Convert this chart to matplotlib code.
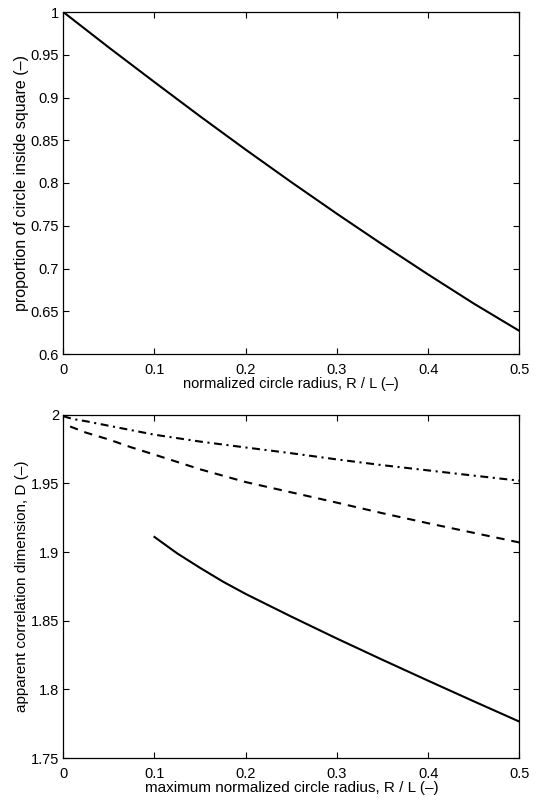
import matplotlib
matplotlib.use('Agg')
import matplotlib.pyplot as plt

plt.rcParams['font.family'] = ['Liberation Sans', 'DejaVu Sans']
plt.rcParams['font.size'] = 10.5

# top panel: proportion of circle inside square
radius_top = [0.0, 0.05, 0.1, 0.15, 0.2, 0.25, 0.3, 0.35, 0.4, 0.45, 0.5]
proportion = [1.0, 0.9585, 0.918, 0.878, 0.839, 0.801, 0.764, 0.728, 0.693, 0.659, 0.627]

# bottom panel: apparent correlation dimension
radius_dashdot = [0.0, 0.01, 0.025, 0.05, 0.1, 0.15, 0.2, 0.25, 0.3, 0.35, 0.4, 0.45, 0.5]
dim_dashdot = [1.999, 1.997, 1.9953, 1.992, 1.9855, 1.9805, 1.9762, 1.972, 1.9675, 1.9633,
               1.9595, 1.9557, 1.952]

radius_dashed = [0.0075, 0.025, 0.05, 0.075, 0.1, 0.15, 0.2, 0.25, 0.3, 0.35, 0.4, 0.45, 0.5]
dim_dashed = [1.9915, 1.987, 1.982, 1.9762, 1.971, 1.9603, 1.951, 1.9435, 1.936, 1.9283,
              1.921, 1.914, 1.907]

radius_solid = [0.1, 0.125, 0.15, 0.175, 0.2, 0.25, 0.3, 0.35, 0.4, 0.45, 0.5]
dim_solid = [1.911, 1.899, 1.8885, 1.8785, 1.8695, 1.853, 1.837, 1.8215, 1.8063, 1.7913, 1.7765]

fig = plt.figure(figsize=(5.36, 8), dpi=100)
ax1 = fig.add_axes([0.118, 0.5575, 0.851, 0.4275])
ax2 = fig.add_axes([0.118, 0.0525, 0.851, 0.429])

ax1.plot(radius_top, proportion, color='black', linewidth=1.5)
ax1.set_xlim(0, 0.5)
ax1.set_ylim(0.6, 1)
ax1.set_xticks([0, 0.1, 0.2, 0.3, 0.4, 0.5])
ax1.set_xticklabels(['0', '0.1', '0.2', '0.3', '0.4', '0.5'])
ax1.set_yticks([0.6, 0.65, 0.7, 0.75, 0.8, 0.85, 0.9, 0.95, 1])
ax1.set_yticklabels(['0.6', '0.65', '0.7', '0.75', '0.8', '0.85', '0.9', '0.95', '1'])
ax1.set_xlabel('normalized circle radius, R / L (\u2013)', fontsize=10.5, labelpad=0)
ax1.set_ylabel('proportion of circle inside square (\u2013)', fontsize=11.5, labelpad=1)

ax2.plot(radius_dashdot, dim_dashdot, color='black', linewidth=1.5, linestyle=(0, (3.8, 2.2, 1, 2.2)))
ax2.plot(radius_dashed, dim_dashed, color='black', linewidth=1.5, linestyle=(0, (4, 3.3)))
ax2.plot(radius_solid, dim_solid, color='black', linewidth=1.5)
ax2.set_xlim(0, 0.5)
ax2.set_ylim(1.75, 2)
ax2.set_xticks([0, 0.1, 0.2, 0.3, 0.4, 0.5])
ax2.set_xticklabels(['0', '0.1', '0.2', '0.3', '0.4', '0.5'])
ax2.set_yticks([1.75, 1.8, 1.85, 1.9, 1.95, 2])
ax2.set_yticklabels(['1.75', '1.8', '1.85', '1.9', '1.95', '2'])
ax2.set_xlabel('maximum normalized circle radius, R / L (\u2013)', fontsize=11, labelpad=0)
ax2.set_ylabel('apparent correlation dimension, D (\u2013)', fontsize=11, labelpad=1)

for ax in (ax1, ax2):
    ax.tick_params(direction='in', top=True, right=True, length=4, width=0.8, labelsize=10.5)
    ax.tick_params(axis='x', pad=6.5)
    ax.tick_params(axis='y', pad=3)
    for s in ax.spines.values():
        s.set_linewidth(0.9)

fig.savefig('out.png', dpi=100)
